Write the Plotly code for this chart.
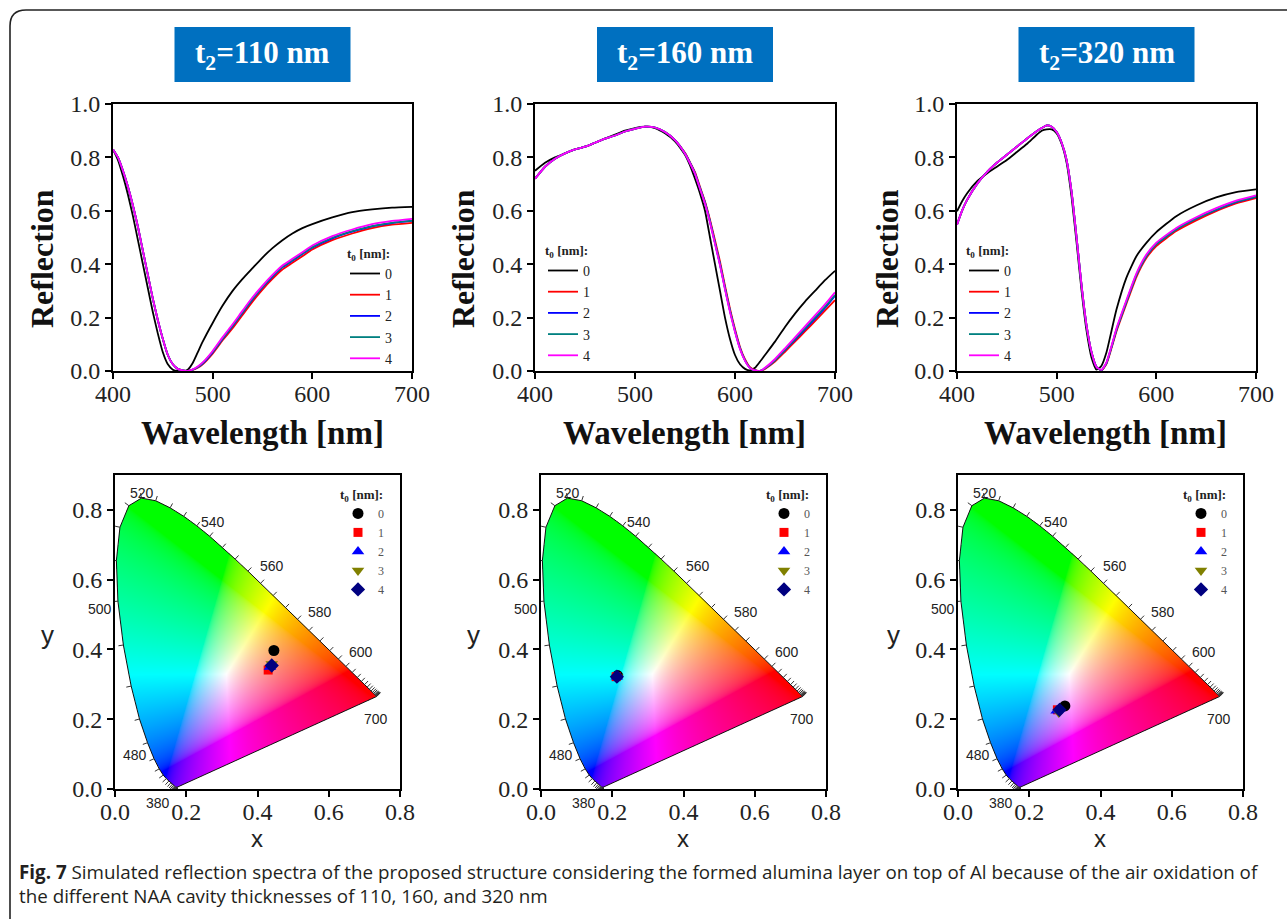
import base64, struct, zlib
import numpy as np
import plotly.graph_objects as go

W, H = 1287, 919

# ---------------- data: reflection spectra ----------------
wl_110 = [400,405,410,415,420,425,430,435,440,445,450,455,460,465,470,475,480,485,490,500,510,520,530,540,550,560,570,580,590,600,620,640,660,680,700]
r110_t0 = [.83,.79,.73,.66,.58,.49,.40,.31,.22,.14,.07,.025,.005,0,0,.005,.03,.07,.11,.18,.245,.30,.345,.385,.425,.46,.49,.515,.535,.55,.575,.595,.605,.612,.615]
r110_t1 = [.83,.80,.75,.69,.62,.54,.45,.36,.27,.19,.12,.06,.025,.008,.002,0,.004,.012,.025,.065,.115,.16,.21,.26,.305,.345,.38,.405,.43,.455,.49,.515,.535,.548,.555]
r110_t2 = [.83,.80,.75,.69,.62,.54,.45,.36,.27,.19,.12,.06,.025,.008,.002,0,.005,.014,.028,.07,.12,.168,.218,.268,.313,.353,.388,.413,.438,.462,.497,.522,.542,.554,.562]
r110_t3 = [.83,.80,.75,.69,.62,.54,.45,.36,.27,.19,.12,.06,.025,.008,.002,0,.005,.015,.03,.072,.122,.17,.22,.27,.315,.355,.39,.415,.44,.464,.499,.524,.543,.555,.563]
r110_t4 = [.83,.80,.75,.69,.62,.54,.45,.36,.27,.19,.12,.06,.025,.008,.002,0,.006,.017,.032,.075,.127,.175,.226,.276,.32,.36,.395,.42,.445,.47,.505,.53,.55,.562,.57]

wl_160 = [400,410,420,430,440,450,460,470,480,490,500,510,520,530,540,550,555,560,565,570,575,580,585,590,595,600,605,610,615,620,625,630,640,650,660,670,680,690,700]
r160_t0 = [.75,.78,.80,.815,.83,.84,.855,.87,.885,.90,.91,.915,.91,.89,.86,.81,.77,.72,.665,.60,.50,.40,.30,.20,.12,.06,.025,.008,.002,.012,.035,.06,.11,.165,.215,.26,.30,.34,.375]
r160_t1 = [.72,.765,.795,.815,.83,.84,.855,.87,.882,.897,.907,.915,.912,.895,.865,.817,.782,.745,.69,.635,.567,.49,.41,.32,.233,.157,.09,.044,.014,.003,0,.008,.035,.072,.11,.148,.187,.226,.265]
r160_t2 = [.72,.765,.795,.815,.83,.84,.855,.87,.882,.897,.907,.915,.912,.895,.865,.815,.78,.74,.685,.63,.56,.48,.40,.31,.225,.15,.085,.04,.012,.002,0,.01,.04,.078,.117,.156,.195,.236,.282]
r160_t3 = [.72,.765,.795,.815,.83,.84,.855,.87,.882,.897,.907,.915,.912,.895,.865,.815,.78,.74,.685,.63,.56,.48,.40,.31,.225,.15,.085,.04,.012,.002,0,.01,.04,.08,.12,.16,.20,.24,.285]
r160_t4 = [.72,.765,.795,.815,.83,.84,.855,.87,.882,.897,.907,.915,.912,.895,.865,.814,.778,.738,.682,.626,.555,.475,.395,.305,.22,.146,.082,.038,.011,.002,0,.012,.045,.085,.126,.167,.208,.25,.295]

wl_320 = [400,405,410,420,430,440,450,460,470,480,485,490,495,500,505,510,515,520,525,530,535,540,545,550,555,560,570,580,590,600,620,640,660,680,700]
r320_t0 = [.598,.635,.665,.71,.74,.765,.79,.82,.85,.885,.90,.905,.905,.89,.85,.78,.65,.48,.30,.15,.05,.005,.02,.07,.15,.23,.35,.43,.48,.52,.58,.62,.65,.67,.68]
r320_t1 = [.548,.60,.64,.70,.745,.78,.81,.84,.87,.898,.91,.92,.915,.895,.855,.79,.67,.50,.32,.17,.07,.015,.002,.027,.085,.148,.252,.352,.423,.468,.524,.564,.599,.628,.648]
r320_t2 = [.548,.60,.64,.70,.745,.78,.81,.84,.87,.898,.91,.92,.915,.895,.855,.79,.67,.50,.32,.17,.07,.015,.003,.03,.09,.155,.26,.36,.43,.475,.53,.57,.603,.632,.652]
r320_t3 = [.548,.60,.64,.70,.745,.78,.81,.84,.87,.898,.91,.92,.915,.895,.855,.79,.67,.50,.32,.17,.07,.015,.003,.03,.09,.155,.26,.36,.43,.475,.53,.57,.604,.633,.653]
r320_t4 = [.548,.60,.64,.70,.745,.78,.81,.84,.87,.898,.91,.92,.915,.895,.855,.79,.67,.50,.32,.17,.07,.015,.004,.033,.094,.16,.266,.366,.436,.481,.536,.576,.61,.638,.658]

t0_labels = ["0", "1", "2", "3", "4"]
panel_titles = ["t<sub>2</sub>=110 nm", "t<sub>2</sub>=160 nm", "t<sub>2</sub>=320 nm"]

# ---------------- data: chromaticity coordinates ----------------
cie110_x = [0.446, 0.430, 0.435, 0.440, 0.440]
cie110_y = [0.397, 0.341, 0.350, 0.358, 0.354]
cie160_x = [0.215, 0.211, 0.213, 0.214, 0.213]
cie160_y = [0.325, 0.322, 0.322, 0.320, 0.322]
cie320_x = [0.300, 0.279, 0.277, 0.283, 0.285]
cie320_y = [0.238, 0.227, 0.224, 0.219, 0.227]

# CIE 1931 2-degree spectral locus (380-700 nm, 5 nm steps)
locus_wl = list(range(380, 705, 5))
locus_x = [0.1741,0.1740,0.1738,0.1736,0.1733,0.1730,0.1726,0.1721,0.1714,0.1703,0.1689,0.1669,0.1644,0.1611,0.1566,0.1510,0.1440,0.1355,0.1241,0.1096,0.0913,0.0687,0.0454,0.0235,0.0082,0.0039,0.0139,0.0389,0.0743,0.1142,0.1547,0.1929,0.2296,0.2658,0.3016,0.3373,0.3731,0.4087,0.4441,0.4788,0.5125,0.5448,0.5752,0.6029,0.6270,0.6482,0.6658,0.6801,0.6915,0.7006,0.7079,0.7140,0.7190,0.7230,0.7260,0.7283,0.7300,0.7311,0.7320,0.7327,0.7334,0.7340,0.7344,0.7346,0.7347]
locus_y = [0.0050,0.0050,0.0049,0.0049,0.0048,0.0048,0.0048,0.0048,0.0051,0.0058,0.0069,0.0086,0.0109,0.0138,0.0177,0.0227,0.0297,0.0399,0.0578,0.0868,0.1327,0.2007,0.2950,0.4127,0.5384,0.6548,0.7502,0.8120,0.8338,0.8262,0.8059,0.7816,0.7543,0.7243,0.6923,0.6589,0.6245,0.5896,0.5547,0.5202,0.4866,0.4544,0.4242,0.3965,0.3725,0.3514,0.3340,0.3197,0.3083,0.2993,0.2920,0.2859,0.2809,0.2770,0.2740,0.2717,0.2700,0.2689,0.2680,0.2673,0.2666,0.2660,0.2656,0.2654,0.2653]
locus_label_wl = [380, 480, 500, 520, 540, 560, 580, 600, 700]

# ---------------- style ----------------
line_colors = ["#000000", "#FF0000", "#0000FF", "#008080", "#FF00FF"]
mk_colors = ["#000000", "#FF0000", "#0000FF", "#808000", "#000080"]
mk_symbols = ["circle", "square", "triangle-up", "triangle-down", "diamond"]
mk_sizes = [11, 9, 11, 11, 11]
label_shift = {380: (-19, -16), 480: (-13, -12), 500: (-18, -8), 520: (1, 5),
               540: (16, 4), 560: (24, 5), 580: (22, 7), 600: (23, 7), 700: (-1, -23)}
SERIF = "Liberation Serif, Times New Roman, serif"
SANS = "Liberation Sans, Arial, sans-serif"

top_px = [(113, 412), (535, 835), (957, 1256)]
top_py = (104, 371)
bot_px = [(115, 400), (541, 826), (958, 1243)]
bot_py = (475, 789)


def px(v):
    return v / W


def py(v):
    return 1 - v / H


fig = go.Figure()

spectra = [
    (wl_110, [r110_t0, r110_t1, r110_t2, r110_t3, r110_t4]),
    (wl_160, [r160_t0, r160_t1, r160_t2, r160_t3, r160_t4]),
    (wl_320, [r320_t0, r320_t1, r320_t2, r320_t3, r320_t4]),
]
cies = [(cie110_x, cie110_y), (cie160_x, cie160_y), (cie320_x, cie320_y)]

top_legend_px = [(345, 241), (543, 238), (964, 238)]
bot_legend_px = [(338, 482), (764, 482), (1181, 482)]

layout_axes = {}
annotations = []
shapes = []
images = []

# ---------- CIE colour image ----------
lx = np.array(locus_x)
ly = np.array(locus_y)
NX, NY = 420, 472
gx = (np.arange(NX) + 0.5) / NX * 0.8
gy = 0.9 - (np.arange(NY) + 0.5) / NY * 0.9
X, Y = np.meshgrid(gx, gy)
inside = np.zeros(X.shape, dtype=bool)
px_poly = np.append(lx, lx[0])
py_poly = np.append(ly, ly[0])
for i in range(len(px_poly) - 1):
    x1, y1, x2, y2 = px_poly[i], py_poly[i], px_poly[i + 1], py_poly[i + 1]
    if y1 == y2:
        continue
    cond = ((y1 > Y) != (y2 > Y)) & (X < (x2 - x1) * (Y - y1) / (y2 - y1) + x1)
    inside ^= cond
Ys = np.maximum(Y, 1e-4)
XX = X / Ys
ZZ = (1 - X - Y) / Ys
M = np.array([[3.2406, -1.5372, -0.4986], [-0.9689, 1.8758, 0.0415], [0.0557, -0.2040, 1.0570]])
rgb = np.stack([M[k, 0] * XX + M[k, 1] + M[k, 2] * ZZ for k in range(3)], axis=-1)
rgb = np.clip(rgb, 0, None)
rgb = rgb / np.maximum(rgb.max(axis=-1, keepdims=True), 1e-9)
rgb = np.where(rgb <= 0.0031308, 12.92 * rgb, 1.055 * np.power(rgb, 1 / 2.4) - 0.055)
rgba = np.zeros((NY, NX, 4), dtype=np.uint8)
rgba[..., :3] = np.clip(rgb * 255, 0, 255).astype(np.uint8)
rgba[..., 3] = np.where(inside, 255, 0).astype(np.uint8)


def to_png(a):
    h, w, _ = a.shape
    raw = b"".join(b"\x00" + a[i].tobytes() for i in range(h))

    def chunk(tag, data):
        return struct.pack(">I", len(data)) + tag + data + struct.pack(">I", zlib.crc32(tag + data) & 0xffffffff)

    return (b"\x89PNG\r\n\x1a\n" + chunk(b"IHDR", struct.pack(">IIBBBBB", w, h, 8, 6, 0, 0, 0))
            + chunk(b"IDAT", zlib.compress(raw, 9)) + chunk(b"IEND", b""))


png_uri = "data:image/png;base64," + base64.b64encode(to_png(rgba)).decode()

# locus ticks (outward normals, computed in pixel space)
sx = (bot_px[0][1] - bot_px[0][0]) / 0.8
sy = (bot_py[1] - bot_py[0]) / 0.9
normals = []
for i in range(len(lx)):
    a = max(i - 1, 0)
    b = min(i + 1, len(lx) - 1)
    tx = (lx[b] - lx[a]) * sx
    ty = (ly[b] - ly[a]) * sy
    n = np.hypot(tx, ty) or 1.0
    nx_, ny_ = ty / n, -tx / n
    if nx_ * (lx[i] - 0.31) * sx + ny_ * (ly[i] - 0.32) * sy < 0:
        nx_, ny_ = -nx_, -ny_
    normals.append((nx_, ny_))
tick_x, tick_y = [], []
for i in range(len(lx)):
    nx_, ny_ = normals[i]
    tick_x += [lx[i], lx[i] + nx_ * 5 / sx, None]
    tick_y += [ly[i], ly[i] + ny_ * 5 / sy, None]

for p in range(3):
    # ---------- top: spectra ----------
    xa = "x" if p == 0 else f"x{p + 1}"
    ya = "y" if p == 0 else f"y{p + 1}"
    leg = "legend" if p == 0 else f"legend{p + 1}"
    wl, curves = spectra[p]
    for k in range(5):
        fig.add_trace(go.Scatter(x=wl, y=curves[k], mode="lines", name=t0_labels[k],
                                 line=dict(color=line_colors[k], width=1.8, shape="spline", smoothing=0.5),
                                 xaxis=xa, yaxis=ya, legend=leg, hoverinfo="skip"))
    # ---------- bottom: CIE ----------
    bx = f"x{p + 4}"
    by = f"y{p + 4}"
    bleg = f"legend{p + 4}"
    fig.add_trace(go.Scatter(x=list(lx) + [lx[0]], y=list(ly) + [ly[0]], mode="lines",
                             line=dict(color="#111", width=1), xaxis=bx, yaxis=by,
                             showlegend=False, hoverinfo="skip"))
    fig.add_trace(go.Scatter(x=tick_x, y=tick_y, mode="lines", line=dict(color="#333", width=1),
                             xaxis=bx, yaxis=by, showlegend=False, hoverinfo="skip"))
    cx, cy = cies[p]
    for k in range(5):
        fig.add_trace(go.Scatter(x=[cx[k]], y=[cy[k]], mode="markers", name=t0_labels[k],
                                 marker=dict(symbol=mk_symbols[k], color=mk_colors[k], size=mk_sizes[k]),
                                 xaxis=bx, yaxis=by, legend=bleg, hoverinfo="skip"))
    images.append(dict(source=png_uri, xref=bx, yref=by, x=0, y=0.9, sizex=0.8, sizey=0.9,
                       sizing="stretch", xanchor="left", yanchor="top", layer="below"))
    for wlab in locus_label_wl:
        i = locus_wl.index(wlab)
        dx, dy = label_shift[wlab]
        annotations.append(dict(x=lx[i], y=ly[i], xref=bx, yref=by, text=str(wlab), showarrow=False,
                                xshift=dx, yshift=dy, font=dict(family=SANS, size=14, color="#222")))

    # axes
    tick_common = dict(ticks="outside", ticklen=6, tickwidth=1.5, tickcolor="black", showline=True,
                       linewidth=2, linecolor="black", mirror=True, showgrid=False, zeroline=False,
                       automargin=False, tickfont=dict(family=SERIF, size=24, color="#222"))
    sfx = "" if p == 0 else str(p + 1)
    layout_axes["xaxis" + sfx] = dict(domain=[px(top_px[p][0]), px(top_px[p][1])], anchor=ya,
                                      range=[400, 700], tick0=400, dtick=100, ticklabelstandoff=-6, **tick_common)
    layout_axes["yaxis" + sfx] = dict(domain=[py(top_py[1]), py(top_py[0])], anchor=xa,
                                      range=[0, 1], tick0=0, dtick=0.2, tickformat=".1f", **tick_common)
    layout_axes[f"xaxis{p + 4}"] = dict(domain=[px(bot_px[p][0]), px(bot_px[p][1])], anchor=by,
                                        range=[0, 0.8], tick0=0, dtick=0.2, tickformat=".1f",
                                        ticklabelstandoff=-6, **tick_common)
    layout_axes[f"yaxis{p + 4}"] = dict(domain=[py(bot_py[1]), py(bot_py[0])], anchor=bx,
                                        range=[0, 0.9], tick0=0, dtick=0.2, tickformat=".1f", **tick_common)

    # legends
    lgx, lgy = top_legend_px[p]
    layout_axes[leg] = dict(x=px(lgx), y=py(lgy), xanchor="left", yanchor="top",
                            bgcolor="rgba(0,0,0,0)", borderwidth=0, tracegroupgap=0,
                            font=dict(family=SERIF, size=14, color="#222"),
                            title=dict(text="<b>t<sub>0</sub> [nm]:</b>", font=dict(family=SERIF, size=13, color="#222")))
    lgx, lgy = bot_legend_px[p]
    layout_axes[bleg] = dict(x=px(lgx), y=py(lgy), xanchor="left", yanchor="top",
                             bgcolor="rgba(0,0,0,0)", borderwidth=0, tracegroupgap=0,
                             font=dict(family=SERIF, size=12, color="#555"),
                             title=dict(text="<b>t<sub>0</sub> [nm]:</b>", font=dict(family=SERIF, size=13, color="#222")))

    # title boxes
    cxp = (top_px[p][0] + top_px[p][1]) / 2
    shapes.append(dict(type="rect", xref="paper", yref="paper", x0=px(cxp - 88), x1=px(cxp + 88),
                       y0=py(82), y1=py(27), fillcolor="#0070C0", line=dict(width=0), layer="above"))
    annotations.append(dict(x=px(cxp), y=py(55), xref="paper", yref="paper", text="<b>" + panel_titles[p] + "</b>",
                            showarrow=False, font=dict(family=SERIF, size=31, color="white"),
                            xanchor="center", yanchor="middle"))

# axis titles (as annotations)
refl_x = [42, 463, 887]
wave_x = [262, 684, 1105]
cx_x = [257, 683, 1100]
cy_x = [47, 473, 893]
for p in range(3):
    annotations.append(dict(x=px(refl_x[p]), y=py(259), xref="paper", yref="paper", text="<b>Reflection</b>",
                            textangle=-90, showarrow=False, xanchor="center", yanchor="middle",
                            font=dict(family=SERIF, size=32, color="#111")))
    annotations.append(dict(x=px(wave_x[p]), y=py(433), xref="paper", yref="paper", text="<b>Wavelength [nm]</b>",
                            showarrow=False, xanchor="center", yanchor="middle",
                            font=dict(family=SERIF, size=33, color="#111")))
    annotations.append(dict(x=px(cx_x[p]), y=py(838), xref="paper", yref="paper", text="x",
                            showarrow=False, xanchor="center", yanchor="middle",
                            font=dict(family=SANS, size=24, color="#222")))
    annotations.append(dict(x=px(cy_x[p]), y=py(635), xref="paper", yref="paper", text="y",
                            showarrow=False, xanchor="center", yanchor="middle",
                            font=dict(family=SANS, size=26, color="#222")))

# caption
CAP = "Open Sans, sans-serif"
annotations.append(dict(x=px(17), y=py(872), xref="paper", yref="paper", xanchor="left", yanchor="middle",
                        showarrow=False, align="left",
                        text="<b>Fig. 7</b> Simulated reflection spectra of the proposed structure considering the formed alumina layer on top of Al because of the air oxidation of",
                        font=dict(family=CAP, size=18.8, color="#231f20")))
annotations.append(dict(x=px(17), y=py(896), xref="paper", yref="paper", xanchor="left", yanchor="middle",
                        showarrow=False, align="left",
                        text="the different NAA cavity thicknesses of 110, 160, and 320 nm",
                        font=dict(family=CAP, size=18.8, color="#231f20")))

# outer rounded frame
path = (f"M {px(10)},{py(960)} L {px(10)},{py(26)} Q {px(10)},{py(10)} {px(26)},{py(10)} L {px(1320)},{py(10)}")
shapes.append(dict(type="path", xref="paper", yref="paper", path=path, line=dict(color="#222", width=1.6)))

fig.update_layout(width=W, height=H, margin=dict(l=0, r=0, t=0, b=0, pad=0, autoexpand=False),
                  paper_bgcolor="white", autosize=False,
                  plot_bgcolor="rgba(0,0,0,0)", showlegend=True, annotations=annotations, shapes=shapes,
                  images=images, **layout_axes)
fig.write_html("out.html", config={"displayModeBar": False},
               post_script="document.body.style.margin='0px';document.body.style.overflow='hidden';")
